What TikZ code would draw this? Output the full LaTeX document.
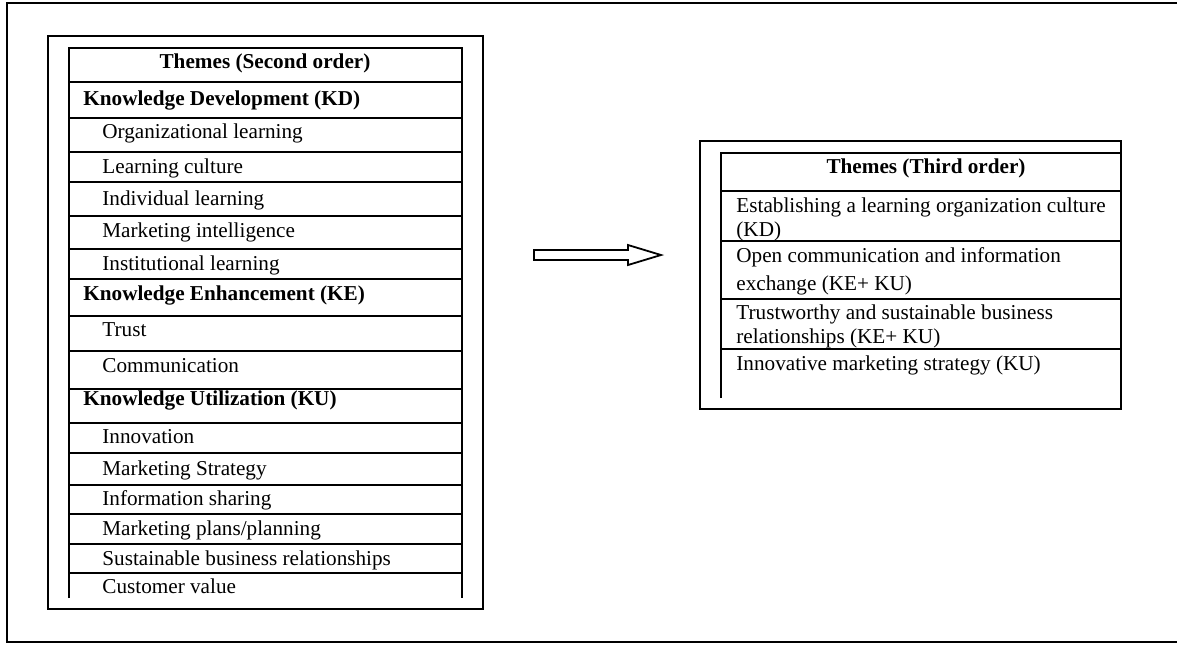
\documentclass[tikz,border=0pt]{standalone}
\usepackage{fontspec}
\setmainfont{Liberation Serif}
\begin{document}
\begin{tikzpicture}[x=0.5pt,y=-0.5pt,
  rule/.style={line width=0.9pt,black},
  frame/.style={line width=1pt,black},
  txt/.style={anchor=base west,inner sep=0pt,font=\fontsize{10.6pt}{12pt}\selectfont},
  bold/.style={txt,font=\fontsize{10.6pt}{12pt}\selectfont\bfseries},
  head/.style={anchor=base,inner sep=0pt,font=\fontsize{10.6pt}{12pt}\selectfont\bfseries}]
\useasboundingbox (0,0) rectangle (1177,645);
% outer frame (open on the right)
\draw[frame] (1177,2.5) -- (7,2.5) -- (7,642) -- (1177,642);
% left box
\draw[frame] (48,36) rectangle (483,609);
% left table
\draw[rule] (69,598) -- (69,48) -- (462,48) -- (462,598);
\foreach \y in {82,118,152,182,216,249,279,316,351,389,423,453,485,514,544,573}
  \draw[rule] (69,\y) -- (462,\y);
\node[head] (h2) at (265,68) {Themes (Second order)};
\node[bold] (kd) at (83,105) {Knowledge Development (KD)};
\node[txt] (a1) at (102,138) {Organizational learning};
\node[txt] (a2) at (102,173) {Learning culture};
\node[txt] (a3) at (102,205) {Individual learning};
\node[txt] (a4) at (102,237) {Marketing intelligence};
\node[txt] (a5) at (102,270) {Institutional learning};
\node[bold] (ke) at (83,300) {Knowledge Enhancement (KE)};
\node[txt] (b1) at (102,336) {Trust};
\node[txt] (b2) at (102,372) {Communication};
\node[bold] (ku) at (83,405) {Knowledge Utilization (KU)};
\node[txt] (c1) at (102,443) {Innovation};
\node[txt] (c2) at (102,475) {Marketing Strategy};
\node[txt] (c3) at (102,505) {Information sharing};
\node[txt] (c4) at (102,535) {Marketing plans/planning};
\node[txt] (c5) at (102,565) {Sustainable business relationships};
\node[txt] (c6) at (102,593) {Customer value};
% arrow
\draw[line width=0.9pt,fill=white] (534,250) -- (628,250) -- (628,245) -- (661,255) -- (628,265) -- (628,260) -- (534,260) -- cycle;
% right box
\draw[frame] (700,141) rectangle (1121,409);
\draw[rule] (721,398) -- (721,153) -- (1121,153);
\foreach \y in {191,241,299,349}
  \draw[rule] (721,\y) -- (1121,\y);
\node[head] (h3) at (926,173) {Themes (Third order)};
\node[txt] (d1) at (736,212) {Establishing a learning organization culture};
\node[txt] (d1b) at (736,236) {(KD)};
\node[txt] (d2) at (736,262) {Open communication and information};
\node[txt] (d2b) at (736,290) {exchange (KE+ KU)};
\node[txt] (d3) at (736,319) {Trustworthy and sustainable business};
\node[txt] (d3b) at (736,343) {relationships (KE+ KU)};
\node[txt] (d4) at (736,370) {Innovative marketing strategy (KU)};
\end{tikzpicture}
\end{document}
